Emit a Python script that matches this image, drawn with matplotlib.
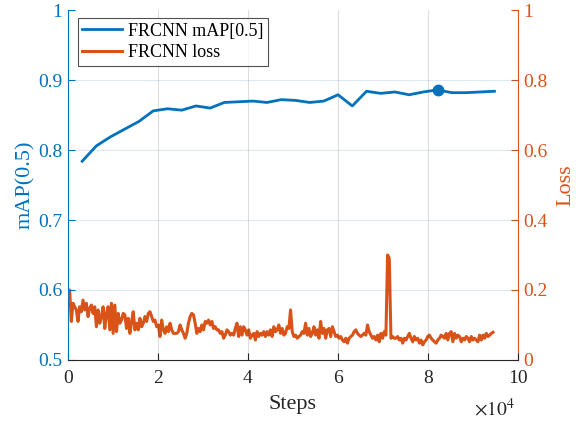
import numpy as np
import matplotlib
matplotlib.use('Agg')
import matplotlib.pyplot as plt

plt.rcParams['font.family'] = ['Liberation Serif', 'DejaVu Serif']
plt.rcParams['mathtext.fontset'] = 'stix'

blue = '#0072BD'
orange = '#D95319'
dark = '#262626'

# mAP evaluated every ~3160 steps
map_steps = np.arange(1, 31) * 3160
map_vals = [0.784, 0.806, 0.819, 0.830, 0.841, 0.856, 0.859, 0.857, 0.863, 0.860,
            0.868, 0.869, 0.870, 0.868, 0.872, 0.871, 0.868, 0.870, 0.879, 0.863,
            0.884, 0.881, 0.883, 0.879, 0.883, 0.886, 0.882, 0.882, 0.883, 0.884]

# training loss logged every 372 steps
loss_vals = [
    0.200, 0.200, 0.110, 0.162, 0.152, 0.143, 0.110, 0.152, 0.138, 0.171,
    0.143, 0.162, 0.124, 0.148, 0.157, 0.133, 0.152, 0.095, 0.143, 0.105,
    0.124, 0.152, 0.090, 0.133, 0.152, 0.086, 0.162, 0.076, 0.157, 0.081,
    0.133, 0.105, 0.114, 0.133, 0.129, 0.090, 0.119, 0.076, 0.110, 0.138,
    0.086, 0.105, 0.086, 0.119, 0.095, 0.105, 0.124, 0.110, 0.133, 0.138,
    0.124, 0.110, 0.114, 0.095, 0.100, 0.067, 0.114, 0.086, 0.076, 0.095,
    0.081, 0.105, 0.086, 0.076, 0.076, 0.076, 0.081, 0.100, 0.086, 0.076,
    0.062, 0.076, 0.105, 0.124, 0.133, 0.129, 0.105, 0.076, 0.090, 0.081,
    0.100, 0.086, 0.110, 0.105, 0.114, 0.100, 0.110, 0.090, 0.095, 0.086,
    0.086, 0.076, 0.081, 0.062, 0.071, 0.086, 0.081, 0.071, 0.076, 0.071,
    0.090, 0.105, 0.067, 0.095, 0.071, 0.095, 0.086, 0.071, 0.086, 0.062,
    0.071, 0.076, 0.057, 0.081, 0.067, 0.076, 0.071, 0.081, 0.067, 0.081,
    0.071, 0.086, 0.067, 0.095, 0.081, 0.086, 0.100, 0.076, 0.090, 0.071,
    0.076, 0.095, 0.090, 0.143, 0.081, 0.067, 0.071, 0.062, 0.067, 0.071,
    0.081, 0.076, 0.105, 0.071, 0.090, 0.067, 0.076, 0.095, 0.071, 0.086,
    0.062, 0.110, 0.076, 0.090, 0.062, 0.086, 0.090, 0.067, 0.095, 0.081,
    0.067, 0.071, 0.062, 0.067, 0.057, 0.052, 0.062, 0.048, 0.062, 0.067,
    0.071, 0.081, 0.086, 0.076, 0.071, 0.067, 0.071, 0.076, 0.071, 0.100,
    0.081, 0.071, 0.062, 0.067, 0.057, 0.071, 0.052, 0.076, 0.062, 0.081,
    0.071, 0.300, 0.290, 0.062, 0.067, 0.062, 0.062, 0.067, 0.057, 0.062,
    0.048, 0.062, 0.057, 0.067, 0.076, 0.062, 0.052, 0.067, 0.057, 0.062,
    0.048, 0.057, 0.043, 0.052, 0.057, 0.067, 0.071, 0.062, 0.057, 0.052,
    0.048, 0.057, 0.062, 0.071, 0.067, 0.062, 0.076, 0.057, 0.076, 0.081,
    0.052, 0.076, 0.062, 0.071, 0.067, 0.052, 0.062, 0.057, 0.067, 0.062,
    0.052, 0.067, 0.057, 0.062, 0.057, 0.052, 0.071, 0.057, 0.071, 0.062,
    0.076, 0.067, 0.071, 0.076, 0.079]
loss_steps = np.arange(len(loss_vals)) * 372

best = int(np.argmax(map_vals))

fig = plt.figure(figsize=(5.76, 4.21), dpi=100)
ax = fig.add_axes([0.118, 0.145, 0.781, 0.831])
ax2 = ax.twinx()

l1, = ax.plot(map_steps, map_vals, color=blue, lw=2.0, label='FRCNN mAP[0.5]', zorder=3)
ax.plot(map_steps[best], map_vals[best], 'o', color=blue, ms=7.5, zorder=4)
l2, = ax2.plot(loss_steps, loss_vals, color=orange, lw=2.2, label='FRCNN loss')

ax.set_xlim(0, 100000)
ax.set_ylim(0.5, 1)
ax2.set_ylim(0, 1)

xt = np.arange(0, 100001, 20000)
ax.set_xticks(xt)
ax.set_xticklabels([f'{int(v / 10000)}' for v in xt])
ax.set_yticks([0.5, 0.6, 0.7, 0.8, 0.9, 1.0])
ax.set_yticklabels(['0.5', '0.6', '0.7', '0.8', '0.9', '1'])
ax2.set_yticks([0, 0.2, 0.4, 0.6, 0.8, 1.0])
ax2.set_yticklabels(['0', '0.2', '0.4', '0.6', '0.8', '1'])

# grid: vertical lines grey, horizontal lines tinted by the left axis colour
for v in xt[1:-1]:
    ax.axvline(v, color=dark, alpha=0.15, lw=0.8, zorder=0)
for v in [0.6, 0.7, 0.8, 0.9]:
    ax.axhline(v, color=blue, alpha=0.15, lw=0.8, zorder=0)

for a in (ax, ax2):
    a.spines['top'].set_visible(False)
ax.spines['left'].set_color(blue)
ax.spines['right'].set_visible(False)
ax.spines['bottom'].set_color(dark)
ax2.spines['left'].set_visible(False)
ax2.spines['bottom'].set_visible(False)
ax2.spines['right'].set_color(orange)

ax.tick_params(axis='x', direction='in', colors=dark, labelsize=14, length=5, pad=7)
ax.tick_params(axis='y', direction='in', colors=blue, labelsize=14, length=5, pad=4)
ax2.tick_params(axis='y', direction='in', colors=orange, labelsize=14, length=5, pad=4)

ax.set_xlabel('Steps', fontsize=16, color=dark, labelpad=6)
ax.set_ylabel('mAP(0.5)', fontsize=16, color=blue, labelpad=2)
ax2.set_ylabel('Loss', fontsize=16, color=orange, labelpad=6)

fig.text(0.858, 0.012, r'$\times10^4$', fontsize=14, color=dark, ha='center')

leg = ax.legend(handles=[l1, l2], loc='upper left', bbox_to_anchor=(0.022, 0.977),
                borderaxespad=0, fontsize=13, frameon=True, fancybox=False,
                handlelength=2.2, borderpad=0.25, labelspacing=0.25, handletextpad=0.3)
leg.get_frame().set_edgecolor(dark)
leg.get_frame().set_linewidth(0.8)
leg.set_zorder(5)
ax.set_zorder(ax2.get_zorder() + 1)
ax.patch.set_visible(False)

fig.savefig('out.png', dpi=100)
